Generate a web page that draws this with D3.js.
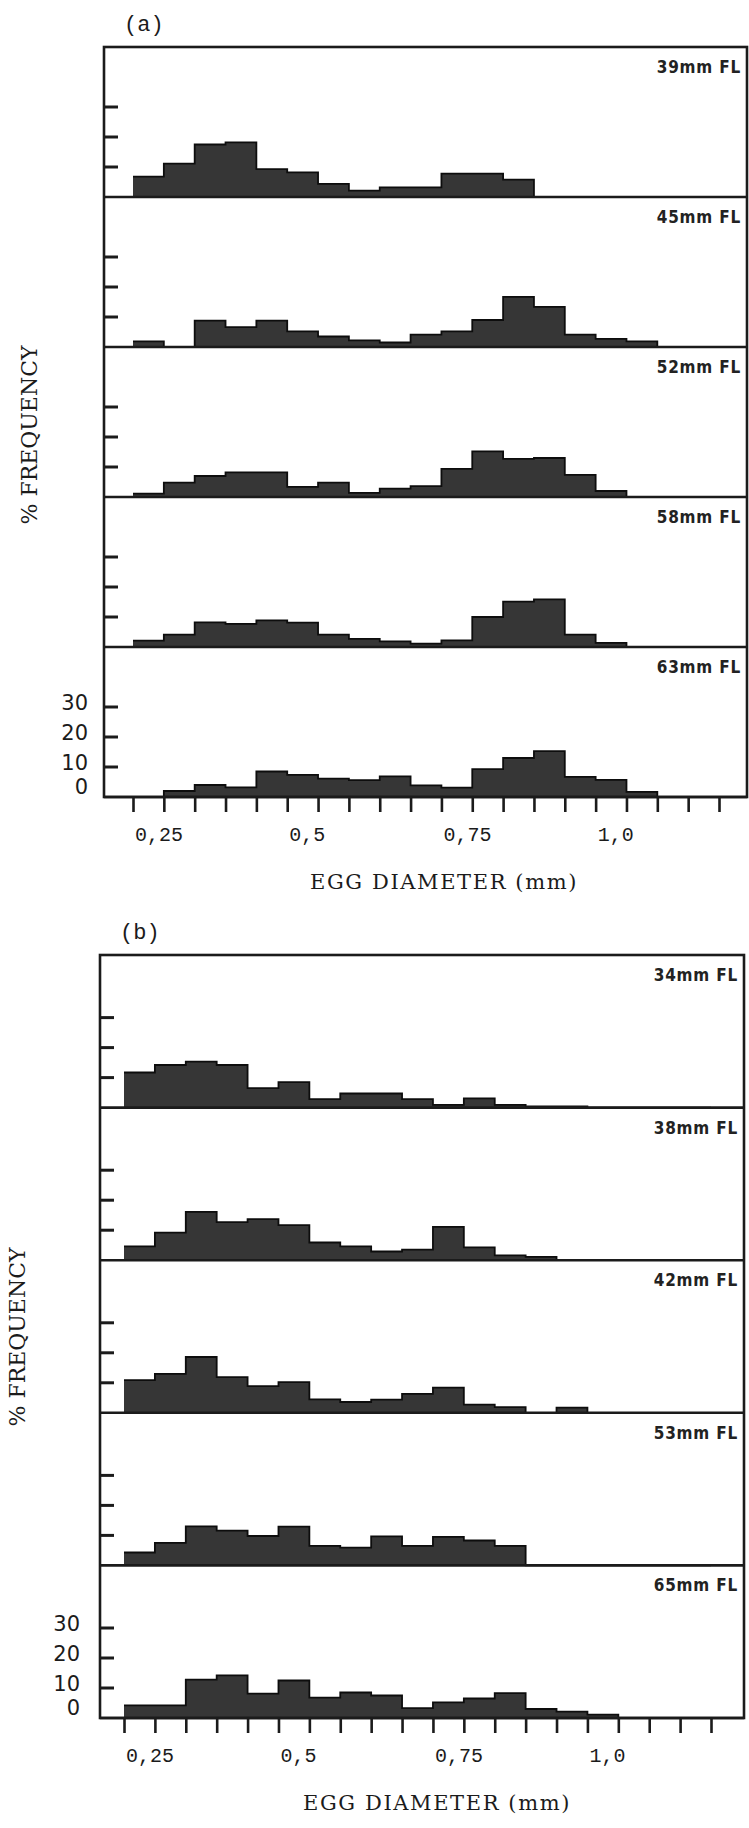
<!DOCTYPE html>
<html>
<head>
<meta charset="utf-8">
<script src="https://cdn.jsdelivr.net/npm/d3@7"></script>
<style>
  body { margin: 0; background: #fff; }
  svg { display: block; }
</style>
</head>
<body>
<svg id="chart" width="749" height="1828"></svg>
<script>
// egg diameter classes (lower edge, mm), 0.05 mm wide
const binStart = [0.25, 0.30, 0.35, 0.40, 0.45, 0.50, 0.55, 0.60, 0.65, 0.70,
                  0.75, 0.80, 0.85, 0.90, 0.95, 1.00, 1.05, 1.10, 1.15];
const xTickValues = [0.25, 0.30, 0.35, 0.40, 0.45, 0.50, 0.55, 0.60, 0.65, 0.70,
                     0.75, 0.80, 0.85, 0.90, 0.95, 1.00, 1.05, 1.10, 1.15, 1.20];
const xLabelValues = [0.25, 0.5, 0.75, 1.0];
const xLabelText = ["0,25", "0,5", "0,75", "1,0"];
const yTickValues = [10, 20, 30];
const yLabelValues = [0, 10, 20, 30];

// (a) % frequency per class
const namesA = ["39mm FL", "45mm FL", "52mm FL", "58mm FL", "63mm FL"];
const fl39 = [6.8, 11.1, 17.5, 18.2, 9.3, 8.2, 4.4, 2.1, 3.2, 3.2, 7.8, 7.8, 5.8, 0, 0, 0, 0, 0, 0];
const fl45 = [1.9, 0, 8.8, 6.6, 8.8, 5.2, 3.5, 2.2, 1.5, 4.1, 5.2, 9.0, 16.7, 13.4, 4.1, 2.7, 1.9, 0, 0];
const fl52 = [1.1, 4.8, 7.0, 8.2, 8.2, 3.4, 4.8, 1.4, 2.8, 3.6, 9.4, 15.2, 12.7, 13.0, 7.4, 2.0, 0, 0, 0];
const fl58 = [2.1, 4.1, 8.2, 7.7, 8.9, 8.1, 4.1, 2.7, 1.9, 1.1, 2.2, 10.0, 15.1, 15.9, 4.1, 1.4, 0, 0, 0];
const fl63 = [0, 2.0, 4.0, 3.2, 8.5, 7.4, 6.1, 5.6, 6.9, 3.9, 3.1, 9.3, 13.0, 15.3, 6.7, 5.7, 1.7, 0, 0];

// (b)
const namesB = ["34mm FL", "38mm FL", "42mm FL", "53mm FL", "65mm FL"];
const fl34 = [11.7, 14.2, 15.3, 14.2, 6.5, 8.5, 2.8, 4.7, 4.7, 2.8, 0.9, 3.1, 0.9, 0.4, 0.4, 0, 0, 0, 0];
const fl38 = [4.6, 9.2, 16.1, 12.7, 13.7, 11.7, 5.9, 4.6, 2.9, 3.5, 11.1, 4.3, 1.6, 1.1, 0, 0, 0, 0, 0];
const fl42 = [10.9, 13.0, 18.6, 11.9, 8.9, 10.2, 4.5, 3.6, 4.4, 6.3, 8.4, 2.7, 1.9, 0, 1.7, 0, 0, 0, 0];
const fl53 = [4.3, 7.5, 13.0, 11.6, 9.8, 12.9, 6.5, 5.9, 9.7, 6.5, 9.5, 8.3, 6.5, 0, 0, 0, 0, 0, 0];
const fl65 = [4.2, 4.2, 12.8, 14.2, 8.1, 12.5, 6.8, 8.5, 7.5, 3.3, 5.2, 6.5, 8.3, 3.0, 2.1, 1.1, 0, 0, 0];

const svg = d3.select("#chart");
const ink = "#1b1b1b";

function drawFigure(o) {
    const g = svg.append("g");
    const x = d3.scaleLinear().domain([0.25, 1.20]).range([o.x0, o.x1]);
    const ph = (o.bottom - o.top) / o.series.length;

    g.append("text")
        .attr("x", o.left + 20).attr("y", o.top - 16)
        .attr("font-family", "Liberation Mono, monospace")
        .attr("font-size", 22).attr("fill", ink)
        .text(o.letter);

    o.series.forEach((vals, i) => {
        const pTop = o.top + i * ph;
        const base = pTop + ph;
        const y = d3.scaleLinear().domain([0, 50]).range([base, base - 150]);

        const pts = binStart.map((s, j) => ({ x: s, v: vals[j] }));
        pts.push({ x: 1.20, v: vals[vals.length - 1] });

        const area = d3.area()
            .x(d => x(d.x)).y0(base).y1(d => y(d.v))
            .curve(d3.curveStepAfter);
        const line = d3.line()
            .x(d => x(d.x)).y(d => y(d.v))
            .curve(d3.curveStepAfter);

        g.append("path").attr("d", area(pts)).attr("fill", "#363636");
        g.append("path").attr("d", line(pts))
            .attr("fill", "none").attr("stroke", "#0d0d0d").attr("stroke-width", 1.8);

        // panel separator / baseline
        g.append("line")
            .attr("x1", o.left).attr("x2", o.right)
            .attr("y1", base).attr("y2", base)
            .attr("stroke", ink).attr("stroke-width", 2.6);

        g.selectAll(null).data(yTickValues).enter().append("line")
            .attr("x1", o.left).attr("x2", o.left + 14)
            .attr("y1", d => y(d)).attr("y2", d => y(d))
            .attr("stroke", ink).attr("stroke-width", 3);

        g.append("text")
            .attr("x", o.right - 6).attr("y", pTop + 26)
            .attr("text-anchor", "end")
            .attr("font-family", "DejaVu Sans Condensed, DejaVu Sans, sans-serif")
            .style("font-stretch", "condensed")
            .attr("font-weight", "bold")
            .attr("font-size", 17).attr("letter-spacing", 0.8)
            .attr("fill", "#222")
            .text(o.names[i]);

        if (i === o.series.length - 1) {
            g.selectAll(null).data(yLabelValues).enter().append("text")
                .attr("x", o.yLabelRight)
                .attr("y", d => Math.min(y(d) + 3, base - 3))
                .attr("text-anchor", "end")
                .attr("font-family", "DejaVu Sans, sans-serif")
                .attr("font-size", 21).attr("fill", ink)
                .text(d => d);
        }
    });

    // frame
    g.append("rect")
        .attr("x", o.left).attr("y", o.top)
        .attr("width", o.right - o.left).attr("height", o.bottom - o.top)
        .attr("fill", "none").attr("stroke", ink).attr("stroke-width", 2.6);

    // bottom ticks
    const axis = d3.axisBottom(x).tickValues(xTickValues).tickSize(15).tickFormat("");
    const ax = g.append("g").attr("transform", `translate(0,${o.bottom})`).call(axis);
    ax.select(".domain").remove();
    ax.selectAll("line").attr("stroke", ink).attr("stroke-width", 2.6);

    g.selectAll(null).data(xLabelValues).enter().append("text")
        .attr("x", (d, i) => x(d) + 2)
        .attr("y", o.bottom + 44)
        .attr("font-family", "Liberation Mono, monospace")
        .attr("font-size", 20).attr("fill", ink)
        .text((d, i) => xLabelText[i]);

    g.append("text")
        .attr("x", o.titleX).attr("y", o.bottom + 92)
        .attr("text-anchor", "middle")
        .attr("font-family", "DejaVu Serif, serif")
        .attr("font-size", 21).attr("letter-spacing", 1.6)
        .attr("fill", ink)
        .text("EGG DIAMETER (mm)");

    g.append("text")
        .attr("transform", `translate(${o.freqX},${o.freqY}) rotate(-90)`)
        .attr("text-anchor", "middle")
        .attr("dominant-baseline", "central")
        .attr("font-family", "DejaVu Serif, serif")
        .attr("font-size", 22).attr("fill", ink)
        .text("% FREQUENCY");
}

drawFigure({
    letter: "(a)", top: 47, bottom: 797, left: 104, right: 747,
    x0: 133, x1: 719, series: [fl39, fl45, fl52, fl58, fl63], names: namesA,
    yLabelRight: 88, titleX: 444, freqX: 29, freqY: 435
});
drawFigure({
    letter: "(b)", top: 955, bottom: 1718, left: 100, right: 744,
    x0: 124, x1: 711, series: [fl34, fl38, fl42, fl53, fl65], names: namesB,
    yLabelRight: 80, titleX: 437, freqX: 17, freqY: 1337
});
</script>
</body>
</html>
